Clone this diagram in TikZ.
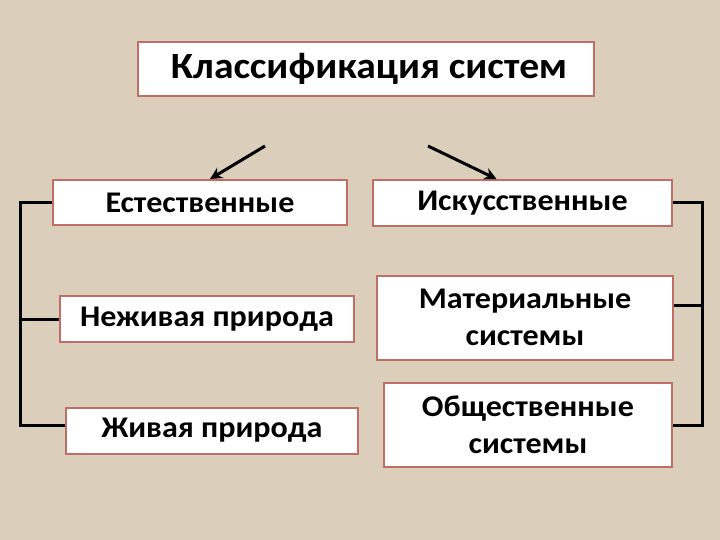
\documentclass[tikz,border=0pt]{standalone}
\usepackage{fontspec}
\setmainfont{Carlito}[FakeStretch=1.07]
\usetikzlibrary{arrows.meta}
\definecolor{bg}{RGB}{219,207,187}
\definecolor{brd}{RGB}{190,110,100}
\tikzset{
  box/.style={draw=brd, line width=2pt, fill=white, rectangle, inner sep=0pt, align=center,
    font=\fontsize{30}{37}\selectfont\bfseries},
  conn/.style={line width=3pt, black},
  arr/.style={line width=3pt, black, -{Stealth[length=12pt,width=12pt]}}
}
\begin{document}
\begin{tikzpicture}[x=1pt,y=-1pt]
\fill[bg] (0,0) rectangle (720,540);
\useasboundingbox (0,0) rectangle (720,540);
\node[box, minimum width=456pt, minimum height=54pt, font=\fontsize{37}{42}\selectfont\bfseries] (t) at (366,69) {\hspace{6pt}Классификация систем};
\node[box, minimum width=294pt, minimum height=45pt] (e) at (200,202.5) {Естественные};
\node[box, minimum width=299pt, minimum height=46pt] (i) at (522.5,203) {Искусственные};
\node[box, minimum width=294pt, minimum height=46pt] (n) at (207,319) {Неживая природа};
\node[box, minimum width=292pt, minimum height=46pt] (z) at (212,430.5) {Живая природа};
\node[box, minimum width=296pt, minimum height=84pt] (m) at (525,317.5) {Материальные\\системы};
\node[box, minimum width=288pt, minimum height=84pt] (o) at (528,425) {Общественные\\системы};
\coordinate (a1) at (265,146);
\coordinate (a2) at (428,146);
\draw[arr] (a1) -- ([xshift=10pt]e.north);
\draw[arr] (a2) -- ([xshift=-26pt]i.north);
\coordinate (lb) at (20,0);
\coordinate (rb) at (702,0);
\draw[conn] (e.west) -- (e.west -| lb) -- ([yshift=5.5pt]z.west -| lb) -- ([yshift=5.5pt]z.west);
\draw[conn] (n.west) -- (n.west -| lb);
\draw[conn] (i.east) -- (i.east -| rb) -- (o.east -| rb) -- (o.east);
\draw[conn] ([yshift=12.5pt]m.east) -- ([yshift=12.5pt]m.east -| rb);
\end{tikzpicture}
\end{document}
